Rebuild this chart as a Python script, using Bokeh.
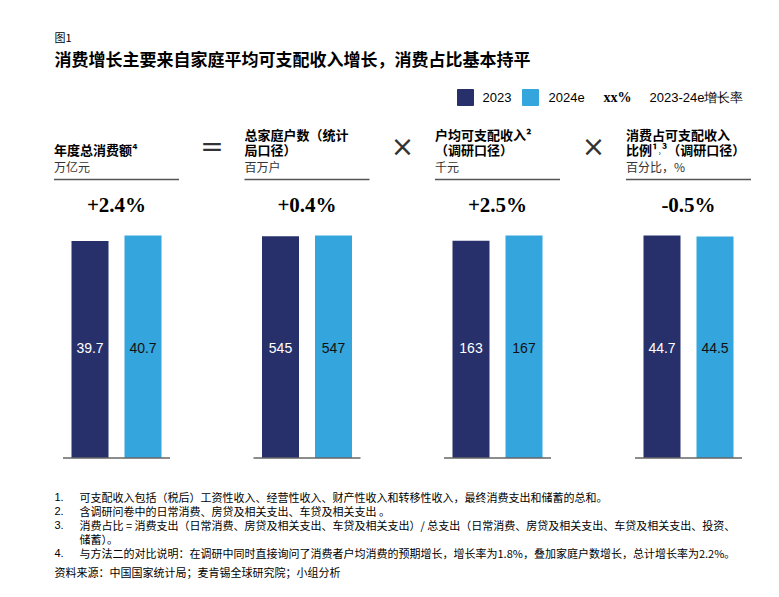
from bokeh.plotting import figure
from bokeh.models import Range1d
from bokeh.core.properties import value
from bokeh.embed import file_html
from bokeh.resources import INLINE

# ---------------- data ----------------
fig_label = "图1"
title = "消费增长主要来自家庭平均可支配收入增长，消费占比基本持平"
series = ["2023", "2024e"]
growth_key = ["xx%", "2023-24e增长率"]
headers = [
    ["年度总消费额⁴"],
    ["总家庭户数（统计", "局口径）"],
    ["户均可支配收入²", "（调研口径）"],
    ["消费占可支配收入", "比例¹˒³（调研口径）"],
]
units = ["万亿元", "百万户", "千元", "百分比，%"]
growth = ["+2.4%", "+0.4%", "+2.5%", "-0.5%"]
values_2023 = [39.7, 545, 163, 44.7]
values_2024e = [40.7, 547, 167, 44.5]
labels_2023 = ["39.7", "545", "163", "44.7"]
labels_2024e = ["40.7", "547", "167", "44.5"]
operators = ["=", "×", "×"]
footnote_nums = ["1.", "2.", "3.", "", "4."]
footnotes = [
    "可支配收入包括（税后）工资性收入、经营性收入、财产性收入和转移性收入，最终消费支出和储蓄的总和。",
    "含调研问卷中的日常消费、房贷及相关支出、车贷及相关支出 。",
    "消费占比 = 消费支出（日常消费、房贷及相关支出、车贷及相关支出）/ 总支出（日常消费、房贷及相关支出、车贷及相关支出、投资、",
    "储蓄）。",
    "与方法二的对比说明：在调研中同时直接询问了消费者户均消费的预期增长，增长率为1.8%，叠加家庭户数增长，总计增长率为2.2%。",
]
source = "资料来源：中国国家统计局；麦肯锡全球研究院；小组分析"

# ---------------- style ----------------
DARK = "#27306a"
LIGHT = "#35a5dd"
CJK = value("Noto Sans CJK SC")
SANS = value("Liberation Sans")
SERIF = value("Liberation Serif")

W, H = 762, 580
X0, Y0 = 1, 1
p = figure(width=W, height=H, x_range=Range1d(X0, X0 + W), y_range=Range1d(Y0 + H, Y0),
           output_backend="svg", toolbar_location=None,
           x_axis_location=None, y_axis_location=None, min_border=0)
p.outline_line_color = None
p.grid.visible = False
p.background_fill_color = "white"
p.border_fill_color = "white"

# header texts
p.text(x=[55], y=[37], text=[fig_label], text_font=CJK, text_font_size="11px",
       text_color="#000", text_baseline="middle")
p.text(x=[55], y=[59], text=[title], text_font=CJK, text_font_size="17px",
       text_font_style="bold", text_color="#000", text_baseline="middle")

# legend
p.rect(x=[466, 531], y=[98, 98], width=16, height=16, color=[DARK, LIGHT])
p.text(x=[483, 549], y=[98, 98], text=series, text_font=SANS, text_font_size="13px",
       text_color="#000", text_baseline="middle")
p.text(x=[604], y=[98], text=[growth_key[0]], text_font=SERIF, text_font_size="14px",
       text_font_style="bold", text_color="#000", text_baseline="middle")
p.text(x=[650], y=[98], text=[growth_key[1]], text_font=SANS, text_font_size="13px",
       text_color="#000", text_baseline="middle")

# panels
centers = [117, 307.5, 498, 689]
half_line = 62.5
bar_off = 26.5
bar_w = 37
base_y = 458.5
top_y = 236

for i, c in enumerate(centers):
    hx = c - half_line
    lines = headers[i]
    ys = [150 - 15 * (len(lines) - 1 - k) for k in range(len(lines))]
    p.text(x=[hx] * len(lines), y=ys, text=lines, text_font=CJK, text_font_size="13px",
           text_font_style="bold", text_color="#000", text_baseline="middle")
    p.text(x=[hx], y=[167], text=[units[i]], text_font=CJK, text_font_size="12px",
           text_color="#333", text_baseline="middle")
    p.segment(x0=[hx], x1=[c + half_line], y0=[180], y1=[180], line_color="#555", line_width=1.5)
    p.text(x=[c], y=[205], text=[growth[i]], text_font=SERIF, text_font_size="21px",
           text_font_style="bold", text_color="#000", text_baseline="middle", text_align="center")

    m = max(values_2023[i], values_2024e[i])
    span = base_y - top_y
    rname = f"panel{i}"
    p.extra_y_ranges[rname] = Range1d(start=-(Y0 + H - base_y) / span * m,
                                      end=(base_y - Y0) / span * m)
    p.vbar(x=[c - bar_off, c + bar_off], top=[values_2023[i], values_2024e[i]], bottom=0,
           width=bar_w, fill_color=[DARK, LIGHT], line_color=None, y_range_name=rname)
    p.segment(x0=[c - 53.5], x1=[c + 53.5], y0=[base_y], y1=[base_y], line_color="#666",
              line_width=1.5)
    p.text(x=[c - bar_off, c + bar_off], y=[348, 348], text=[labels_2023[i], labels_2024e[i]],
           text_font=SANS, text_font_size="14px", text_color=["#ffffff", "#111111"],
           text_baseline="middle", text_align="center")

# operators
op_x = [212.5, 403, 594]
p.text(x=op_x, y=[147, 147, 147], text=operators, text_font=value("DejaVu Sans"),
       text_font_size="28px", text_font_style="normal", text_color="#333",
       text_baseline="middle", text_align="center")

# footnotes
fy = [497, 511, 525, 539, 553]
p.text(x=[55] * 5, y=fy, text=footnote_nums, text_font=SANS, text_font_size="11px",
       text_color="#000", text_baseline="middle")
p.text(x=[80] * 5, y=fy, text=footnotes, text_font=CJK, text_font_size="11px",
       text_color="#000", text_baseline="middle")
p.text(x=[55], y=[572], text=[source], text_font=CJK, text_font_size="11px",
       text_color="#000", text_baseline="middle")

open("out.html", "w").write(file_html(p, INLINE))
